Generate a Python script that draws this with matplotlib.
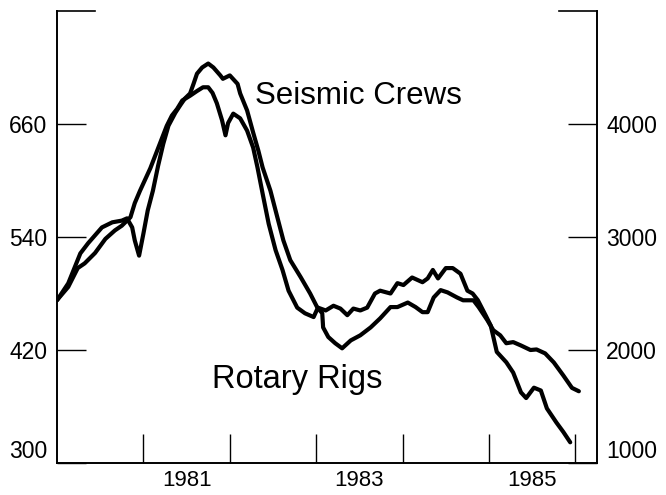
import matplotlib
matplotlib.use("Agg")
import matplotlib.pyplot as plt

plt.rcParams['font.family'] = ['Liberation Sans', 'DejaVu Sans']

# seismic crews (left axis, crews)
crew_years = [1980.00, 1980.13, 1980.24, 1980.32, 1980.44, 1980.56, 1980.67, 1980.75,
              1980.85, 1980.90, 1980.96, 1981.08, 1981.19, 1981.27, 1981.33, 1981.39,
              1981.45, 1981.54, 1981.62, 1981.69, 1981.75, 1981.80, 1981.85, 1981.91,
              1981.95, 1981.98, 1982.04, 1982.12, 1982.20, 1982.27, 1982.32, 1982.38,
              1982.45, 1982.53, 1982.61, 1982.68, 1982.78, 1982.87, 1982.97, 1983.02,
              1983.11, 1983.20, 1983.28, 1983.36, 1983.43, 1983.51, 1983.59, 1983.68,
              1983.74, 1983.82, 1983.86, 1983.94, 1984.01, 1984.11, 1984.23, 1984.29,
              1984.35, 1984.41, 1984.50, 1984.58, 1984.67, 1984.75, 1984.81, 1984.87,
              1984.96, 1985.02, 1985.09, 1985.20, 1985.28, 1985.37, 1985.43, 1985.52,
              1985.60, 1985.67, 1985.78, 1985.86, 1985.94]
crews = [473, 487, 507, 512, 523, 538, 547, 552,
         561, 576, 589, 613, 639, 658, 669, 676,
         685, 690, 695, 699, 699, 693, 682, 664,
         648, 661, 671, 666, 653, 635, 614, 586,
         554, 526, 505, 483, 465, 459, 455, 465,
         462, 467, 464, 457, 464, 462, 465, 480,
         483, 481, 480, 491, 489, 497, 492, 496,
         505, 496, 507, 507, 501, 483, 480, 473,
         457, 446, 418, 407, 396, 375, 369, 380,
         377, 358, 343, 333, 322]

# rotary rigs (right axis, rigs)
rig_years = [1980.00, 1980.13, 1980.27, 1980.36, 1980.52, 1980.64, 1980.75, 1980.81,
             1980.87, 1980.90, 1980.95, 1981.00, 1981.05, 1981.11, 1981.17, 1981.23,
             1981.29, 1981.37, 1981.43, 1981.48, 1981.54, 1981.58, 1981.62, 1981.68,
             1981.75, 1981.81, 1981.89, 1981.92, 1982.00, 1982.09, 1982.12, 1982.20,
             1982.27, 1982.33, 1982.38, 1982.47, 1982.55, 1982.62, 1982.70, 1982.82,
             1982.93, 1983.01, 1983.07, 1983.08, 1983.14, 1983.22, 1983.30, 1983.40,
             1983.51, 1983.63, 1983.74, 1983.86, 1983.94, 1984.06, 1984.15, 1984.23,
             1984.29, 1984.36, 1984.44, 1984.52, 1984.63, 1984.70, 1984.82, 1984.88,
             1984.98, 1985.05, 1985.13, 1985.20, 1985.28, 1985.37, 1985.48, 1985.55,
             1985.65, 1985.75, 1985.86, 1985.96, 1986.04]
rigs = [2440, 2590, 2855, 2945, 3085, 3130, 3145, 3165,
        3085, 2970, 2835, 3030, 3235, 3410, 3630, 3825,
        3985, 4100, 4170, 4225, 4270, 4355, 4445, 4500,
        4535, 4500, 4430, 4400, 4430, 4355, 4270, 4120,
        3925, 3765, 3615, 3410, 3175, 2970, 2795, 2645,
        2500, 2380, 2325, 2200, 2115, 2060, 2015, 2085,
        2130, 2200, 2280, 2380, 2380, 2420, 2380, 2335,
        2335, 2465, 2530, 2510, 2465, 2440, 2440, 2380,
        2265, 2175, 2130, 2060, 2070, 2040, 2000, 2005,
        1970, 1890, 1775, 1665, 1635]

year_bounds = [1981, 1982, 1983, 1984, 1985, 1986]
year_labels = ['1981', '1983', '1985']
label_pos = [1981.5, 1983.5, 1985.5]
left_ticks = [300, 420, 540, 660]
right_ticks = [1000, 2000, 3000, 4000]

fig, ax = plt.subplots(figsize=(6.66, 4.95), dpi=100)
ax2 = ax.twinx()
box = [0.0856, 0.0646, 0.8108, 0.9132]
ax.set_position(box)
ax2.set_position(box)

ax.plot(crew_years, crews, color='black', lw=3, solid_joinstyle='round', solid_capstyle='round')
ax2.plot(rig_years, rigs, color='black', lw=3, solid_joinstyle='round', solid_capstyle='round')

ax.set_xlim(1980.0, 1986.25)
ax.set_ylim(300, 780)
ax2.set_ylim(1000, 5000)

for a in (ax, ax2):
    a.spines['top'].set_visible(False)
    for s in a.spines.values():
        s.set_linewidth(1.2)

# short stubs of the top frame at both corners
ax.plot([0, 0.07], [1, 1], transform=ax.transAxes, color='black', lw=1.2, clip_on=False)
ax.plot([0.93, 1], [1, 1], transform=ax.transAxes, color='black', lw=1.2, clip_on=False)

ax.set_yticks(left_ticks)
ax.tick_params(axis='y', direction='in', length=21, width=1, labelsize=16.5, pad=7)
ax2.set_yticks(right_ticks)
ax2.tick_params(axis='y', direction='in', length=21, width=1, labelsize=16.5, pad=6.5)
ax.get_yticklabels()[0].set_va('bottom')
ax2.get_yticklabels()[0].set_va('bottom')

ax.set_xticks(year_bounds, minor=True)
ax.set_xticks(label_pos, labels=year_labels)
ax.tick_params(axis='x', which='minor', direction='in', length=21, width=1)
ax.tick_params(axis='x', which='major', length=0, labelsize=16, pad=5)

ax.text(0.367, 0.794, 'Seismic Crews', transform=ax.transAxes, fontsize=22.5,
        ha='left', va='baseline')
ax.text(0.287, 0.166, 'Rotary Rigs', transform=ax.transAxes, fontsize=23.5,
        ha='left', va='baseline')

fig.savefig('out.png', dpi=100)
